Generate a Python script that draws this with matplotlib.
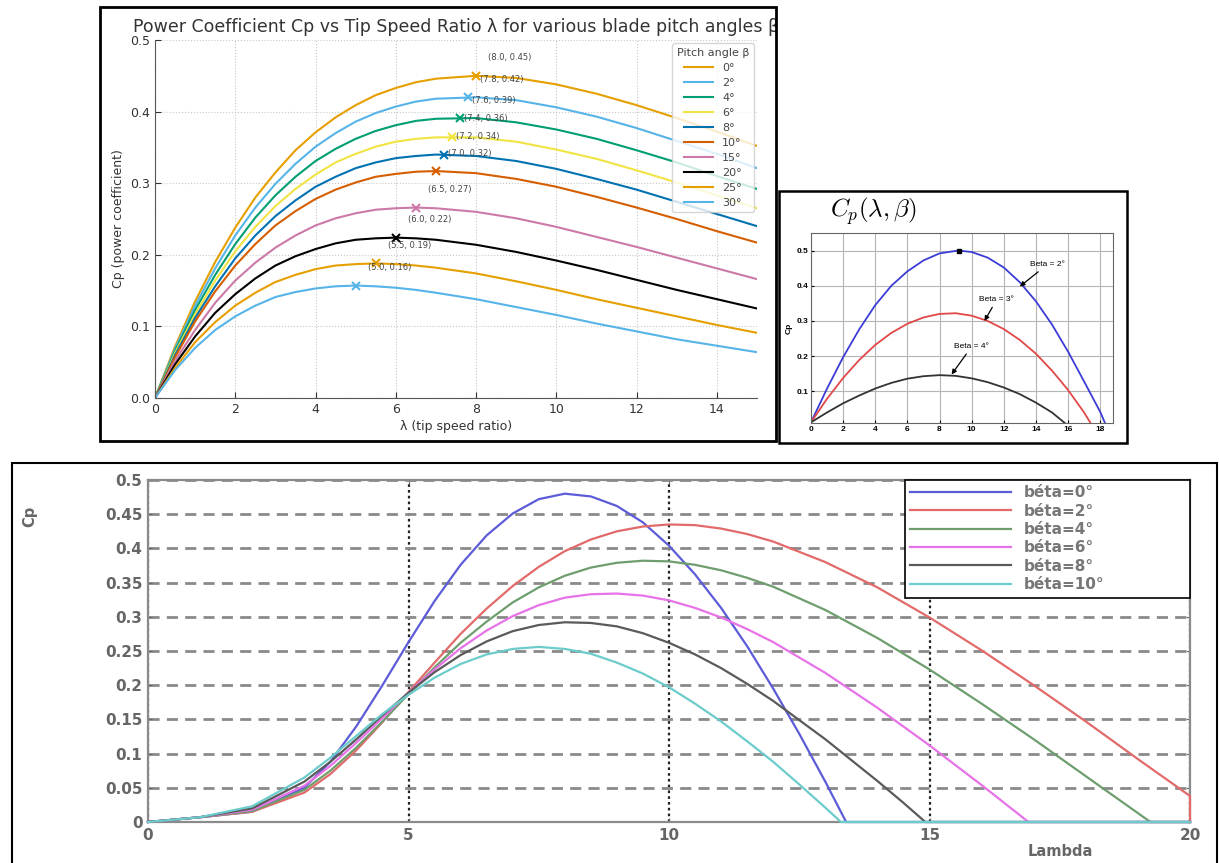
import matplotlib
matplotlib.use("Agg")
import matplotlib.pyplot as plt
from matplotlib.patches import Rectangle
from matplotlib.transforms import Bbox, TransformedBbox

W, H = 1219, 863

# ---------- panel 1: Cp vs lambda for pitch angles (top left) ----------
lam_top = [0, 0.5, 1, 1.5, 2, 2.5, 3, 3.5, 4, 4.5, 5, 5.5, 6, 6.5, 7, 8, 9, 10, 11, 12, 13, 14, 15]
pitch_top = [0, 2, 4, 6, 8, 10, 15, 20, 25, 30]
cp_top = [
    [0, .072, .135, .190, .238, .280, .315, .346, .371, .392, .409, .423, .433, .441, .446, .450, .447, .438, .425, .409, .391, .372, .352],
    [0, .069, .129, .181, .227, .266, .299, .327, .351, .370, .386, .398, .407, .414, .418, .420, .416, .406, .393, .377, .359, .341, .321],
    [0, .066, .123, .172, .215, .252, .283, .309, .331, .348, .362, .373, .381, .387, .390, .391, .385, .375, .362, .346, .329, .310, .292],
    [0, .063, .117, .164, .205, .239, .268, .292, .312, .329, .341, .351, .358, .362, .364, .364, .358, .347, .334, .318, .301, .283, .265],
    [0, .060, .112, .156, .195, .227, .254, .276, .295, .309, .321, .329, .335, .338, .340, .338, .331, .320, .306, .291, .274, .257, .240],
    [0, .057, .107, .149, .185, .215, .241, .261, .278, .291, .301, .309, .313, .316, .317, .314, .306, .295, .281, .266, .250, .233, .217],
    [0, .052, .095, .133, .164, .189, .210, .227, .241, .251, .258, .263, .265, .266, .265, .260, .251, .239, .225, .211, .196, .181, .166],
    [0, .047, .086, .119, .145, .167, .185, .198, .208, .216, .221, .223, .224, .223, .221, .214, .204, .192, .179, .165, .151, .138, .125],
    [0, .042, .078, .106, .129, .147, .162, .172, .180, .185, .187, .188, .187, .185, .182, .174, .163, .151, .138, .126, .114, .102, .091],
    [0, .039, .070, .095, .114, .129, .141, .148, .153, .156, .157, .156, .154, .151, .147, .138, .127, .116, .104, .093, .082, .073, .064],
]
peak_lam = [8.0, 7.8, 7.6, 7.4, 7.2, 7.0, 6.5, 6.0, 5.5, 5.0]
peak_cp = [0.450, 0.420, 0.391, 0.365, 0.340, 0.317, 0.266, 0.224, 0.188, 0.157]
colors_top = ['#E69F00', '#56B4E9', '#009E73', '#F0E442', '#0072B2',
              '#D55E00', '#CC79A7', '#000000', '#E69F00', '#56B4E9']

# ---------- panel 2: Cp(lambda, beta) small chart (right) ----------
lam_b2 = [0, 1, 2, 3, 4, 5, 6, 7, 8, 9, 9.2, 10, 11, 12, 13, 14, 15, 16, 17, 18, 18.3]
cp_b2 = [0.012, 0.108, 0.197, 0.276, 0.345, 0.400, 0.441, 0.472, 0.492, 0.499, 0.500,
         0.496, 0.480, 0.452, 0.410, 0.356, 0.290, 0.213, 0.128, 0.042, 0.010]
lam_b3 = [0, 1, 2, 3, 4, 5, 6, 7, 8, 9, 10, 11, 12, 13, 14, 15, 16, 17, 17.4]
cp_b3 = [0.012, 0.079, 0.138, 0.189, 0.232, 0.266, 0.292, 0.310, 0.320, 0.322,
         0.315, 0.300, 0.277, 0.246, 0.207, 0.159, 0.104, 0.040, 0.010]
lam_b4 = [0, 1, 2, 3, 4, 5, 6, 7, 8, 9, 10, 11, 12, 13, 14, 15, 15.8]
cp_b4 = [0.012, 0.040, 0.066, 0.088, 0.108, 0.124, 0.136, 0.143, 0.146, 0.144,
         0.137, 0.126, 0.111, 0.092, 0.068, 0.040, 0.010]

# ---------- panel 3: béta curves (bottom) ----------
lam_be0 = [0, 1, 2, 3, 3.5, 4, 4.5, 5, 5.5, 6, 6.5, 7, 7.5, 8, 8.5, 9, 9.5, 10,
           10.5, 11, 11.5, 12, 12.5, 13, 13.4, 20]
cp_be0 = [0, 0.007, 0.015, 0.050, 0.088, 0.140, 0.200, 0.263, 0.323, 0.376, 0.419, 0.451,
          0.472, 0.480, 0.476, 0.462, 0.438, 0.404, 0.362, 0.313, 0.257, 0.195, 0.129, 0.059, 0, 0]
lam_be2 = [0, 1, 2, 3, 3.5, 4, 4.5, 5, 5.5, 6, 6.5, 7, 7.5, 8, 8.5, 9, 9.5, 10,
           10.5, 11, 11.5, 12, 13, 14, 15, 16, 17, 18, 19, 20, 20]
cp_be2 = [0, 0.007, 0.015, 0.043, 0.070, 0.105, 0.146, 0.190, 0.233, 0.275, 0.312, 0.345,
          0.373, 0.396, 0.413, 0.425, 0.432, 0.435, 0.434, 0.429, 0.421, 0.410, 0.380, 0.343,
          0.299, 0.251, 0.200, 0.147, 0.092, 0.038, 0]
lam_be4 = [0, 1, 2, 3, 3.5, 4, 4.5, 5, 5.5, 6, 6.5, 7, 7.5, 8, 8.5, 9, 9.5, 10,
           10.5, 11, 11.5, 12, 13, 14, 15, 16, 17, 18, 19, 19.24, 20]
cp_be4 = [0, 0.007, 0.016, 0.047, 0.075, 0.109, 0.147, 0.187, 0.226, 0.262, 0.293, 0.321,
          0.343, 0.360, 0.372, 0.379, 0.382, 0.381, 0.376, 0.368, 0.357, 0.344, 0.310, 0.269,
          0.223, 0.173, 0.121, 0.067, 0.013, 0, 0]
lam_be6 = [0, 1, 2, 3, 3.5, 4, 4.5, 5, 5.5, 6, 6.5, 7, 7.5, 8, 8.5, 9, 9.5, 10,
           10.5, 11, 11.5, 12, 13, 14, 15, 16, 16.5, 16.9, 20]
cp_be6 = [0, 0.007, 0.018, 0.053, 0.082, 0.116, 0.152, 0.189, 0.223, 0.254, 0.280, 0.301,
          0.317, 0.328, 0.333, 0.334, 0.331, 0.324, 0.313, 0.299, 0.282, 0.263, 0.218, 0.167,
          0.112, 0.054, 0.024, 0, 0]
lam_be8 = [0, 1, 2, 3, 3.5, 4, 4.5, 5, 5.5, 6, 6.5, 7, 7.5, 8, 8.5, 9, 9.5,
           10, 10.5, 11, 11.5, 12, 13, 14, 14.5, 14.92, 20]
cp_be8 = [0, 0.007, 0.020, 0.059, 0.088, 0.121, 0.156, 0.189, 0.219, 0.244, 0.264, 0.279,
          0.288, 0.292, 0.291, 0.286, 0.276, 0.262, 0.245, 0.225, 0.202, 0.177, 0.121, 0.060,
          0.028, 0, 0]
lam_be10 = [0, 1, 2, 3, 3.5, 4, 4.5, 5, 5.5, 6, 6.5, 7, 7.5, 8, 8.5, 9, 9.5,
            10, 10.5, 11, 11.5, 12, 12.5, 13, 13.3, 20]
cp_be10 = [0, 0.007, 0.023, 0.065, 0.094, 0.126, 0.158, 0.186, 0.211, 0.231, 0.245, 0.253,
           0.256, 0.253, 0.246, 0.233, 0.217, 0.197, 0.173, 0.147, 0.118, 0.088, 0.055, 0.021, 0, 0]
labels_bottom = ['béta=0°', 'béta=2°', 'béta=4°', 'béta=6°', 'béta=8°', 'béta=10°']
colors_bottom = ['#5c5cd8', '#e26a6a', '#6e9e6e', '#e872e8', '#5a5a5a', '#6ccccc']
yticks_bottom = [0, 0.05, 0.1, 0.15, 0.2, 0.25, 0.3, 0.35, 0.4, 0.45, 0.5]
ytick_labels_bottom = ['0', '0.05', '0.1', '0.15', '0.2', '0.25', '0.3', '0.35', '0.4', '0.45', '0.5']


def px_rect(x0, y0, x1, y1):
    return [x0 / W, 1 - y1 / H, (x1 - x0) / W, (y1 - y0) / H]


fig = plt.figure(figsize=(W / 100, H / 100), dpi=100)
fig.patch.set_facecolor('white')

# ================= panel 1 =================
ax1 = fig.add_axes(px_rect(155, 40, 757, 398))
for i, beta in enumerate(pitch_top):
    ax1.plot(lam_top, cp_top[i], color=colors_top[i], lw=1.5, label=f'{beta}°')
for i in range(len(pitch_top)):
    ax1.plot(peak_lam[i], peak_cp[i], 'x', color=colors_top[i], ms=6, mew=1.5)
    ax1.text(peak_lam[i] + 0.3, peak_cp[i] + 0.025,
             f'({peak_lam[i]:.1f}, {peak_cp[i]:.2f})',
             fontsize=6, color='#444444', va='center', ha='left')
ax1.set_xlim(0, 15)
ax1.set_ylim(0, 0.5)
ax1.set_xticks([0, 2, 4, 6, 8, 10, 12, 14])
ax1.set_yticks([0, 0.1, 0.2, 0.3, 0.4, 0.5])
ax1.grid(True, ls=':', color='#c8c8c8', lw=0.8)
for s in ['top', 'right']:
    ax1.spines[s].set_visible(False)
for s in ['left', 'bottom']:
    ax1.spines[s].set_color('#555555')
ax1.tick_params(direction='in', labelsize=9, colors='#333333', length=4)
ax1.set_xlabel('λ (tip speed ratio)', fontsize=9, color='#333333', labelpad=3)
ax1.set_ylabel('Cp (power coefficient)', fontsize=9, color='#333333')
ttl = ax1.set_title('Power Coefficient Cp vs Tip Speed Ratio λ for various blade pitch angles β',
                    fontsize=12.5, color='#333333')
leg1 = ax1.legend(title='Pitch angle β', loc='upper right', fontsize=8, title_fontsize=8,
                  framealpha=0.8, edgecolor='#cccccc', labelcolor='#444444',
                  handlelength=2.6, borderaxespad=0.3, labelspacing=0.45)
leg1.get_title().set_color('#444444')

frame1 = [100 / W, 1 - 441 / H, 676 / W, 434 / H]
fig.add_artist(Rectangle((frame1[0], frame1[1]), frame1[2], frame1[3], transform=fig.transFigure,
                         fill=False, ec='black', lw=2))
ttl.set_clip_box(TransformedBbox(Bbox.from_bounds(*frame1), fig.transFigure))
ttl.set_clip_on(True)

# ================= panel 2 =================
f2 = 'Liberation Sans'
ax2 = fig.add_axes(px_rect(811, 233, 1113, 423))
ax2.plot(lam_b2, cp_b2, color='#3c3cd6', lw=1.3)
ax2.plot(lam_b3, cp_b3, color='#e04848', lw=1.3)
ax2.plot(lam_b4, cp_b4, color='#333333', lw=1.3)
ax2.plot(9.2, 0.5, 's', color='black', ms=3)
ax2.set_xlim(0, 18.8)
ax2.set_ylim(0.01, 0.55)
ax2.set_xticks(range(0, 19, 2))
ax2.set_yticks([0.1, 0.2, 0.3, 0.4, 0.5])
ax2.grid(True, color='#b5b5b5', lw=0.8)
ax2.set_axisbelow(True)
for s in ax2.spines.values():
    s.set_color('#666666')
ax2.tick_params(direction='in', length=2, labelsize=6, pad=2)
for lbl in ax2.get_xticklabels() + ax2.get_yticklabels():
    lbl.set_fontweight('bold')
    lbl.set_family(f2)
ax2.set_ylabel('Cp', fontsize=6, fontweight='bold', family=f2, labelpad=3)
arrow = dict(arrowstyle='-|>', color='black', lw=0.9, mutation_scale=7, shrinkA=1, shrinkB=0)
ax2.annotate('Beta = 2°', xy=(13.0, 0.398), xytext=(14.7, 0.46), fontsize=6, family=f2,
             ha='center', va='center', arrowprops=arrow)
ax2.annotate('Beta = 3°', xy=(10.8, 0.30), xytext=(11.55, 0.36), fontsize=6, family=f2,
             ha='center', va='center', arrowprops=arrow)
ax2.annotate('Beta = 4°', xy=(8.75, 0.148), xytext=(10.0, 0.227), fontsize=6, family=f2,
             ha='center', va='center', arrowprops=arrow)
fig.text(830 / W, 1 - 217 / H, r'$C_p(\lambda,\beta)$', fontsize=18, math_fontfamily='cm',
         ha='left', va='baseline')
fig.add_artist(Rectangle((779 / W, 1 - 443 / H), 348 / W, 252 / H, transform=fig.transFigure,
                         fill=False, ec='black', lw=1.8))

# ================= panel 3 =================
ax3 = fig.add_axes(px_rect(148, 480, 1190, 822))
series3 = [(lam_be0, cp_be0), (lam_be2, cp_be2), (lam_be4, cp_be4),
           (lam_be6, cp_be6), (lam_be8, cp_be8), (lam_be10, cp_be10)]
for (lx, cy), col, lab in zip(series3, colors_bottom, labels_bottom):
    ax3.plot(lx, cy, color=col, lw=1.6, label=lab, clip_on=False, zorder=3)
ax3.set_xlim(0, 20)
ax3.set_ylim(0, 0.5)
ax3.set_xticks([0, 5, 10, 15, 20])
ax3.set_yticks(yticks_bottom)
ax3.set_yticklabels(ytick_labels_bottom)
ax3.grid(True, axis='y', color='#8a8a8a', lw=2, ls=(0, (4, 2.6)))
ax3.grid(True, axis='x', color='#222222', lw=1.6, ls=(0, (1.2, 1.4)))
ax3.set_axisbelow(True)
for s in ax3.spines.values():
    s.set_color('#8a8a8a')
    s.set_linewidth(1.6)
ax3.tick_params(direction='in', length=3, labelsize=11, colors='#666666', top=True, right=True,
                pad=4)
for lbl in ax3.get_xticklabels() + ax3.get_yticklabels():
    lbl.set_fontweight('bold')
fig.text(1060 / W, 1 - 851 / H, 'Lambda', fontsize=10.5, fontweight='bold', color='#666666',
         ha='center', va='center')
fig.text(30 / W, 1 - 516 / H, 'Cp', fontsize=10.5, fontweight='bold', color='#666666',
         ha='center', va='center', rotation=90)
leg_x0 = (905 - 148) / (1190 - 148)
leg3 = ax3.legend(loc='upper right', bbox_to_anchor=(leg_x0, 0, 1 - leg_x0, 1), mode='expand',
                  borderaxespad=0, fancybox=False, edgecolor='black',
                  framealpha=1, handlelength=6.6, handletextpad=0.8, labelspacing=0.22,
                  borderpad=0.35, prop={'size': 11, 'weight': 'bold'}, labelcolor='#777777')
leg3.get_frame().set_linewidth(1.2)
fig.add_artist(Rectangle((12 / W, -0.05), 1205 / W, 1 - 463 / H + 0.05, transform=fig.transFigure,
                         fill=False, ec='black', lw=1.5))

fig.savefig('out.png', dpi=100, facecolor='white')
